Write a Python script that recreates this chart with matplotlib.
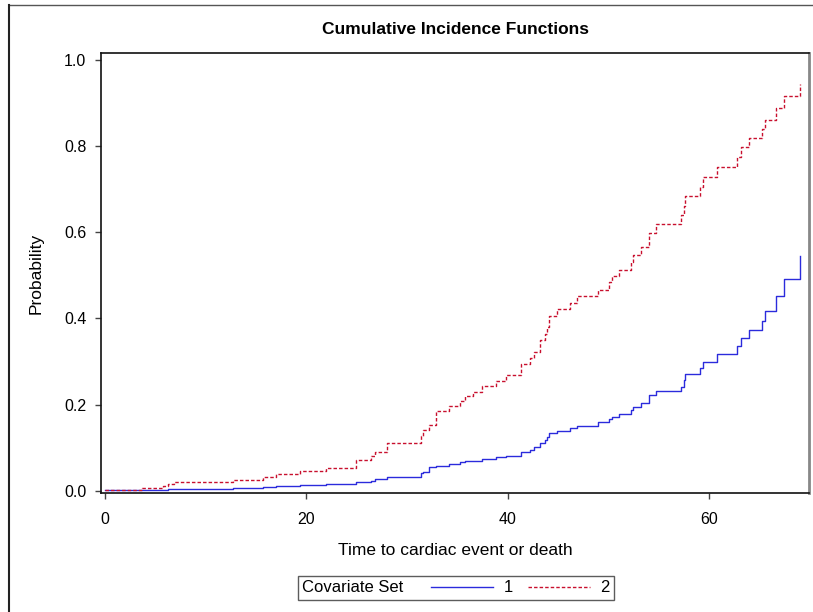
import matplotlib
matplotlib.use("Agg")
import matplotlib.pyplot as plt
from matplotlib.lines import Line2D
from matplotlib.offsetbox import HPacker

plt.rcParams['font.family'] = ['Liberation Sans', 'DejaVu Sans']

# jump times shared by both covariate sets
times = [0, 3.7, 5.8, 6.3, 6.8, 12.7, 15.7, 17.0, 19.4, 21.9,
         24.9, 26.4, 26.8, 28.0, 31.4, 31.6, 32.2, 32.9, 34.2, 35.2,
         35.7, 36.5, 37.4, 38.8, 39.8, 41.3, 42.2, 42.6, 43.2, 43.7,
         43.9, 44.1, 44.9, 46.2, 46.9, 48.9, 50.0, 50.3, 51.0, 52.2,
         52.4, 53.2, 54.0, 54.7, 57.2, 57.5, 57.6, 59.1, 59.4, 60.8,
         62.8, 63.1, 63.9, 65.2, 65.5, 66.6, 67.4, 69.0]

cif_set1 = [0.001, 0.0015, 0.003, 0.004, 0.005, 0.0075, 0.009, 0.011, 0.013, 0.0155,
            0.021, 0.024, 0.027, 0.032, 0.041, 0.044, 0.055, 0.058, 0.062, 0.066,
            0.0685, 0.0696, 0.0735, 0.078, 0.082, 0.091, 0.095, 0.101, 0.111, 0.117,
            0.1245, 0.134, 0.140, 0.1455, 0.1515, 0.159, 0.166, 0.1725, 0.179, 0.187,
            0.195, 0.204, 0.222, 0.232, 0.242, 0.2575, 0.2707, 0.2847, 0.300, 0.317,
            0.335, 0.354, 0.374, 0.394, 0.418, 0.452, 0.4926, 0.545]

cif_set2 = [0.0016, 0.006, 0.0116, 0.016, 0.020, 0.0255, 0.031, 0.038, 0.0464, 0.054,
            0.071, 0.0797, 0.091, 0.111, 0.128, 0.1415, 0.152, 0.185, 0.1965, 0.208,
            0.219, 0.230, 0.243, 0.2545, 0.268, 0.2947, 0.308, 0.3225, 0.350, 0.3635,
            0.381, 0.4067, 0.422, 0.437, 0.4517, 0.467, 0.4857, 0.498, 0.5128, 0.531,
            0.547, 0.565, 0.599, 0.619, 0.640, 0.662, 0.684, 0.706, 0.729, 0.752,
            0.774, 0.797, 0.819, 0.840, 0.8615, 0.889, 0.917, 0.944]

xticks = [0, 20, 40, 60]
yticks = [0.0, 0.2, 0.4, 0.6, 0.8, 1.0]

fig = plt.figure(figsize=(8.13, 6.12), dpi=100)
ax = fig.add_axes([101/813, 1 - 493/612, (809 - 101)/813, (493 - 53)/612])

l1, = ax.plot(times, cif_set1, drawstyle='steps-post', color='#2b2bdc', lw=1.0)
l2, = ax.plot(times, cif_set2, drawstyle='steps-post', color='#c8102e', lw=1.0,
              linestyle=(0, (2.5, 1.5)))

ax.set_xlim(-0.4, 69.9)
ax.set_ylim(-0.005, 1.016)
ax.set_xticks(xticks)
ax.set_xticklabels([str(t) for t in xticks])
ax.set_yticks(yticks)
ax.set_yticklabels(['%.1f' % v for v in yticks])
ax.tick_params(direction='out', length=4.5, width=1.0, color='#444444',
               labelsize=11.5, pad=6)
ax.tick_params(axis='x', pad=9)

for s in ['left', 'bottom', 'top']:
    ax.spines[s].set_linewidth(1.2)
    ax.spines[s].set_color('#111111')
ax.spines['right'].set_linewidth(2.0)
ax.spines['right'].set_color('#888888')

ax.set_xlabel('Time to cardiac event or death', fontsize=12.5, labelpad=12)
ax.set_ylabel('Probability', fontsize=12.5, labelpad=15)
fig.text(455/813, 1 - 30/612, 'Cumulative Incidence Functions', ha='center',
         va='center', fontsize=12.5, fontweight='bold')

leg = fig.legend([l1, l2], ['1', '2'], ncol=2, title='Covariate Set',
                 loc='center', bbox_to_anchor=(456/813, 1 - 588/612),
                 fontsize=12, title_fontsize=12, frameon=True, fancybox=False,
                 edgecolor='#333333', handlelength=3.7, handletextpad=0.65,
                 columnspacing=0.9, borderpad=0.25, borderaxespad=0)
leg.get_frame().set_linewidth(1.0)
# put the legend title on the left of the entries
c = leg.get_children()[0]
title_box = c.get_children()[0]
cols = c.get_children()[1]
c._children = [HPacker(children=[title_box, cols], align='center', pad=0, sep=20)]

# outer frame lines (top and left)
fig.add_artist(Line2D([8.5/813, 1.0], [1 - 4.5/612, 1 - 4.5/612],
                      transform=fig.transFigure, color='#555555', lw=1.0))
fig.add_artist(Line2D([8.5/813, 8.5/813], [0, 1 - 4.5/612],
                      transform=fig.transFigure, color='#222222', lw=1.5))

fig.savefig('out.png', dpi=100)
